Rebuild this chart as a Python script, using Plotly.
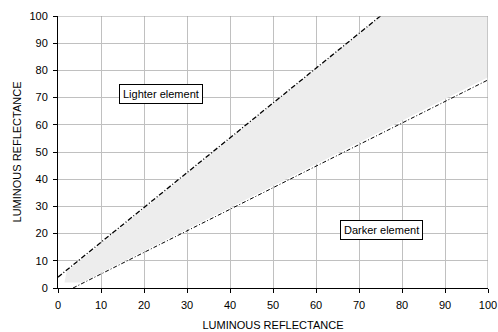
import plotly.graph_objects as go

# Boundary lines (luminous reflectance of background vs element)
upper_x = [0, 75]
upper_y = [4, 100]
lower_x = [3.5, 100]
lower_y = [0, 76.5]

# Shaded zone between the boundaries
band_x = [1.5, 2.0, 75, 100, 100, 5.5, 1.5]
band_y = [2.0, 6.0, 100, 100, 77.5, 2.0, 2.0]

tick_vals = list(range(0, 101, 10))

fig = go.Figure()
fig.add_trace(go.Scatter(x=band_x, y=band_y, mode="lines", fill="toself",
                         fillcolor="#ededed", line=dict(width=0), hoverinfo="skip"))
fig.add_trace(go.Scatter(x=upper_x, y=upper_y, mode="lines",
                         line=dict(color="black", width=1.3, dash="5px,2px,1px,2px")))
fig.add_trace(go.Scatter(x=lower_x, y=lower_y, mode="lines",
                         line=dict(color="black", width=1, dash="4px,2px,1px,2px")))

font = dict(family="Liberation Sans, Arial, sans-serif", size=11, color="black")

fig.update_layout(
    width=498, height=332, showlegend=False,
    margin=dict(l=58, r=10, t=16, b=44),
    paper_bgcolor="white", plot_bgcolor="white",
    font=font,
    xaxis=dict(range=[0, 100], tickvals=tick_vals, showgrid=True, gridcolor="#c0c0c0",
               gridwidth=1, zeroline=False, showline=True, linecolor="black", linewidth=1,
               ticks="outside", ticklen=4, tickcolor="black", mirror=False, automargin=False,
               ticklabelstandoff=3,
               title=dict(text="LUMINOUS REFLECTANCE", font=dict(size=11), standoff=11)),
    yaxis=dict(range=[0, 100], tickvals=tick_vals, showgrid=True, gridcolor="#c0c0c0",
               gridwidth=1, zeroline=False, showline=True, linecolor="black", linewidth=1,
               ticks="outside", ticklen=4, tickcolor="black", automargin=False,
               ticklabelstandoff=3,
               title=dict(text="LUMINOUS REFLECTANCE", font=dict(size=11), standoff=5)),
    shapes=[
        dict(type="line", xref="x", yref="y", x0=0, x1=100, y0=100, y1=100,
             line=dict(color="#a0a0a0", width=1)),
        dict(type="line", xref="x", yref="y", x0=100, x1=100, y0=0, y1=100,
             line=dict(color="#a0a0a0", width=1)),
    ],
    annotations=[
        dict(x=24, y=71.4, xref="x", yref="y", text="Lighter element", showarrow=False,
             bordercolor="black", borderwidth=1, bgcolor="white", borderpad=3,
             font=dict(size=11)),
        dict(x=75.3, y=21.2, xref="x", yref="y", text="Darker element", showarrow=False,
             bordercolor="black", borderwidth=1, bgcolor="white", borderpad=3,
             font=dict(size=11)),
    ],
)

fig.write_html("out.html", config={"displayModeBar": False},
               post_script="document.body.style.margin='0';")
